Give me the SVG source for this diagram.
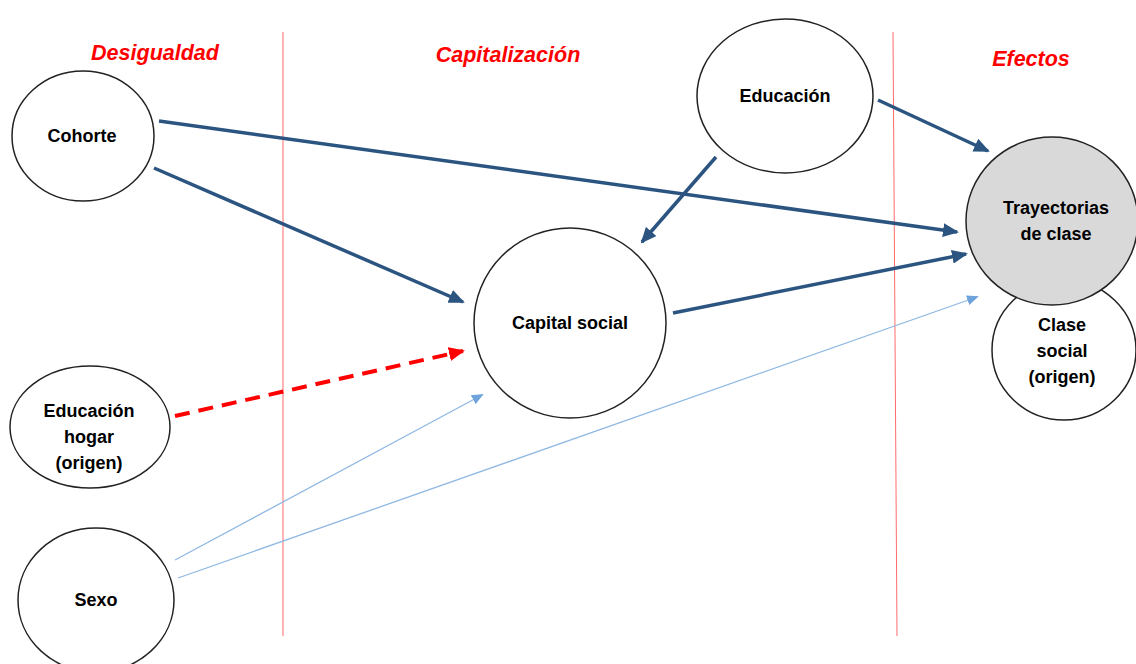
<svg xmlns="http://www.w3.org/2000/svg" width="1136" height="664" viewBox="0 0 1136 664">
<style>
.node{fill:#fff;stroke:#222;stroke-width:1.5}
.lbl{font-family:"Liberation Sans",Arial,sans-serif;font-weight:bold;font-size:18px;fill:#000;text-anchor:middle}
.sec{font-family:"Liberation Sans",Arial,sans-serif;font-weight:bold;font-style:italic;font-size:21.5px;fill:#ff0000;text-anchor:middle}
.div{stroke:#ff6b6b;stroke-width:1}
.dark{stroke:#2b5580;stroke-width:3.5;fill:none}
.red{stroke:#ff0000;stroke-width:4;fill:none;stroke-dasharray:15,9}
.light{stroke:#8fb8e3;stroke-width:1.3;fill:none}
</style>
<defs>
<marker id="ad" markerUnits="userSpaceOnUse" markerWidth="16" markerHeight="14" refX="14" refY="7" orient="auto"><path d="M0,0 L16,7 L0,14 Z" fill="#2b5580"/></marker>
<marker id="ar" markerUnits="userSpaceOnUse" markerWidth="16" markerHeight="14" refX="14" refY="7" orient="auto"><path d="M0,0 L16,7 L0,14 Z" fill="#ff0000"/></marker>
<marker id="al" markerUnits="userSpaceOnUse" markerWidth="12" markerHeight="10" refX="10" refY="5" orient="auto"><path d="M0,0 L12,5 L0,10 Z" fill="#6fa3dc"/></marker>
</defs>
<rect width="1136" height="664" fill="#fff"/>
<g id="dividers">
<line class="div" x1="283" y1="32" x2="283" y2="636"/>
<line class="div" x1="893" y1="32" x2="897" y2="636"/>
</g>
<g id="sections">
<text class="sec" x="155" y="60">Desigualdad</text>
<text class="sec" x="508" y="62">Capitalización</text>
<text class="sec" x="1031" y="66">Efectos</text>
</g>
<g id="node-clase">
<ellipse class="node" cx="1064" cy="350" rx="72" ry="70"/>
<text class="lbl" x="1062" y="331">Clase</text>
<text class="lbl" x="1062" y="357">social</text>
<text class="lbl" x="1062" y="383">(origen)</text>
</g>
<g id="node-trayectorias">
<ellipse cx="1052" cy="221" rx="86" ry="84" fill="#d9d9d9" stroke="#222" stroke-width="1.5"/>
<text class="lbl" x="1056" y="214">Trayectorias</text>
<text class="lbl" x="1056" y="240">de clase</text>
</g>
<g id="node-cohorte">
<ellipse class="node" cx="83" cy="136" rx="71" ry="65"/>
<text class="lbl" x="82" y="142">Cohorte</text>
</g>
<g id="node-educacion">
<ellipse class="node" cx="785" cy="96" rx="88" ry="77"/>
<text class="lbl" x="785" y="102">Educación</text>
</g>
<g id="node-capital">
<ellipse class="node" cx="570" cy="323" rx="96" ry="95"/>
<text class="lbl" x="570" y="329">Capital social</text>
</g>
<g id="node-eduhogar">
<ellipse class="node" cx="90" cy="427" rx="80" ry="61"/>
<text class="lbl" x="89" y="417">Educación</text>
<text class="lbl" x="89" y="443">hogar</text>
<text class="lbl" x="89" y="469">(origen)</text>
</g>
<g id="node-sexo">
<ellipse class="node" cx="96" cy="600" rx="78" ry="72"/>
<text class="lbl" x="96" y="606">Sexo</text>
</g>
<g id="connectors">
<line class="dark" x1="159" y1="121" x2="957" y2="232" marker-end="url(#ad)"/>
<line class="dark" x1="154" y1="168" x2="463" y2="302" marker-end="url(#ad)"/>
<line class="dark" x1="716" y1="157" x2="642" y2="242" marker-end="url(#ad)"/>
<line class="dark" x1="878" y1="100" x2="988" y2="151" marker-end="url(#ad)"/>
<line class="dark" x1="673" y1="313" x2="966" y2="254" marker-end="url(#ad)"/>
<line class="red" x1="175" y1="416" x2="463" y2="351" marker-end="url(#ar)"/>
<line class="light" x1="175" y1="560" x2="482" y2="395" marker-end="url(#al)"/>
<line class="light" x1="178" y1="578" x2="977" y2="297" marker-end="url(#al)"/>
</g>
</svg>
